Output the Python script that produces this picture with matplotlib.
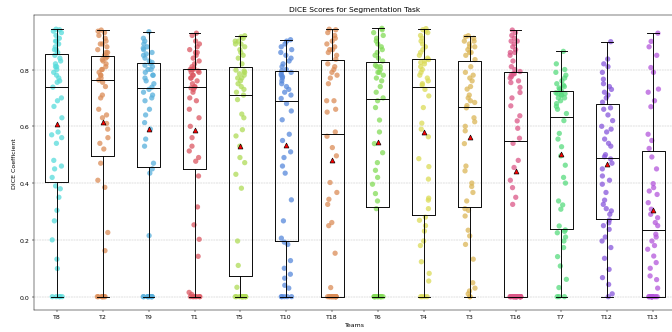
import matplotlib
matplotlib.use('Agg')
import matplotlib.pyplot as plt
import numpy as np
import pandas as pd
import seaborn as sns

' ____________ Data: DICE per case, read off the figure ____________ '

teams = ['T8', 'T2', 'T9', 'T1', 'T5', 'T10', 'T18',
         'T6', 'T4', 'T3', 'T16', 'T7', 'T12', 'T13']

team_colors = ['#57dbdb', '#db8c57', '#57afdb', '#db5762', '#afdb57', '#5789db', '#db8c57',
               '#83db57', '#dbdb57', '#dbb657', '#db5787', '#57db7e', '#8757db', '#b457db']

t8 = [0, 0, 0, 0, 0, 0.099, 0.132, 0.20, 0.267, 0.304, 0.35, 0.38, 0.39,
      0.42, 0.45, 0.46, 0.48, 0.54, 0.56, 0.57, 0.58, 0.63, 0.67, 0.69, 0.70, 0.738,
      0.755, 0.76, 0.77, 0.78, 0.79, 0.80, 0.81, 0.81, 0.82, 0.83, 0.84, 0.85,
      0.86, 0.87, 0.87, 0.88, 0.89, 0.90, 0.90, 0.91, 0.92, 0.93, 0.935, 0.94, 0.942]
t2 = [0, 0, 0, 0, 0, 0, 0, 0, 0.162, 0.226, 0.385, 0.41, 0.47,
      0.52, 0.54, 0.56, 0.59, 0.61, 0.63, 0.64, 0.66, 0.70, 0.71, 0.74, 0.755, 0.763,
      0.77, 0.78, 0.78, 0.79, 0.80, 0.80, 0.81, 0.82, 0.83, 0.835, 0.84, 0.845,
      0.85, 0.86, 0.86, 0.87, 0.88, 0.89, 0.89, 0.90, 0.91, 0.92, 0.93, 0.935, 0.939]
t9 = [0, 0, 0, 0, 0, 0, 0, 0, 0, 0, 0.215, 0.435, 0.45,
      0.47, 0.53, 0.555, 0.59, 0.613, 0.64, 0.66, 0.69, 0.70, 0.71, 0.72, 0.73,
      0.738, 0.75, 0.76, 0.77, 0.78, 0.78, 0.79, 0.80, 0.80, 0.81, 0.815, 0.82,
      0.825, 0.83, 0.84, 0.85, 0.855, 0.86, 0.87, 0.875, 0.88, 0.89, 0.90, 0.91, 0.933]
t1 = [0, 0, 0, 0, 0, 0, 0, 0.008, 0.015, 0.142, 0.202, 0.253, 0.316, 0.425,
      0.477, 0.49, 0.513, 0.53, 0.56, 0.60, 0.63, 0.66, 0.69, 0.70, 0.72, 0.73, 0.735, 0.738,
      0.74, 0.75, 0.76, 0.77, 0.77, 0.78, 0.78, 0.79, 0.79, 0.795, 0.80, 0.80, 0.80,
      0.805, 0.81, 0.82, 0.83, 0.84, 0.85, 0.86, 0.86, 0.87, 0.88, 0.89, 0.90, 0.92, 0.928]
t5 = [0, 0, 0, 0, 0, 0, 0, 0, 0, 0, 0, 0, 0.033, 0.11,
      0.196, 0.382, 0.431, 0.472, 0.49, 0.53, 0.566, 0.588, 0.63, 0.643, 0.694, 0.71,
      0.72, 0.73, 0.74, 0.75, 0.76, 0.77, 0.77, 0.78, 0.785, 0.79, 0.795, 0.798,
      0.82, 0.84, 0.85, 0.86, 0.87, 0.88, 0.89, 0.89, 0.90, 0.90, 0.91, 0.915, 0.919]
t10 = [0, 0, 0, 0, 0, 0.03, 0.04, 0.065, 0.079, 0.10, 0.127, 0.184, 0.192,
       0.206, 0.267, 0.341, 0.435, 0.46, 0.49, 0.51, 0.55, 0.572, 0.623, 0.654, 0.68,
       0.698, 0.71, 0.72, 0.73, 0.74, 0.75, 0.76, 0.77, 0.775, 0.78, 0.785, 0.79,
       0.795, 0.80, 0.81, 0.82, 0.83, 0.84, 0.85, 0.86, 0.87, 0.88, 0.89, 0.90, 0.905]
t18 = [0, 0, 0, 0, 0, 0, 0, 0, 0, 0, 0, 0, 0, 0,
       0.032, 0.153, 0.25, 0.261, 0.325, 0.343, 0.367, 0.402, 0.496, 0.525, 0.565, 0.58,
       0.65, 0.66, 0.69, 0.69, 0.75, 0.77, 0.78, 0.79, 0.80, 0.81, 0.82,
       0.836, 0.85, 0.86, 0.87, 0.87, 0.88, 0.89, 0.90, 0.91, 0.92, 0.93, 0.94, 0.942]
t6 = [0, 0, 0, 0, 0, 0, 0, 0, 0, 0, 0, 0, 0.31,
      0.337, 0.363, 0.396, 0.42, 0.445, 0.472, 0.507, 0.539, 0.58, 0.622, 0.666, 0.69,
      0.70, 0.72, 0.74, 0.76, 0.77, 0.78, 0.79, 0.79, 0.80, 0.81, 0.81, 0.815,
      0.83, 0.84, 0.85, 0.86, 0.87, 0.88, 0.89, 0.90, 0.91, 0.92, 0.93, 0.94, 0.945]
t4 = [0, 0, 0, 0, 0.055, 0.082, 0.123, 0.18, 0.196, 0.231, 0.25, 0.269, 0.28,
      0.31, 0.34, 0.347, 0.414, 0.458, 0.486, 0.563, 0.59, 0.611, 0.666, 0.707, 0.73,
      0.745, 0.75, 0.76, 0.77, 0.78, 0.79, 0.80, 0.81, 0.82, 0.825, 0.83, 0.835,
      0.84, 0.85, 0.86, 0.87, 0.88, 0.89, 0.90, 0.91, 0.92, 0.93, 0.935, 0.94, 0.944]
t3 = [0, 0, 0.01, 0.02, 0.03, 0.049, 0.132, 0.184, 0.214, 0.234, 0.284, 0.304, 0.31,
      0.337, 0.367, 0.388, 0.40, 0.443, 0.46, 0.539, 0.584, 0.60, 0.616, 0.63, 0.665,
      0.673, 0.684, 0.69, 0.70, 0.71, 0.731, 0.74, 0.76, 0.77, 0.78, 0.79, 0.81,
      0.835, 0.85, 0.86, 0.86, 0.87, 0.88, 0.88, 0.89, 0.90, 0.90, 0.91, 0.915, 0.919]
t16 = [0, 0, 0, 0, 0, 0, 0, 0, 0, 0, 0, 0, 0, 0, 0, 0, 0, 0, 0, 0, 0, 0, 0, 0,
       0.325, 0.35, 0.384, 0.41, 0.455, 0.48, 0.54,
       0.558, 0.593, 0.619, 0.637, 0.672, 0.70, 0.719, 0.737, 0.754, 0.76, 0.77, 0.775,
       0.78, 0.785, 0.785,
       0.793, 0.80, 0.81, 0.83, 0.85, 0.86, 0.86, 0.87, 0.88, 0.89, 0.90, 0.90, 0.91,
       0.92, 0.93, 0.939]
t7 = [0, 0, 0, 0.032, 0.061, 0.108, 0.141, 0.173, 0.196, 0.21, 0.225, 0.23, 0.235,
      0.249, 0.308, 0.323, 0.337, 0.40, 0.42, 0.463, 0.496, 0.528, 0.555, 0.575, 0.62,
      0.645, 0.66, 0.67, 0.68, 0.69, 0.70, 0.70, 0.71, 0.71, 0.715, 0.715, 0.718,
      0.725, 0.73, 0.735, 0.74, 0.745, 0.75, 0.76, 0.77, 0.78, 0.79, 0.80, 0.82, 0.864]
t12 = [0, 0.01, 0.043, 0.067, 0.096, 0.135, 0.173, 0.196, 0.21, 0.237, 0.25, 0.26, 0.27,
       0.29, 0.302, 0.31, 0.325, 0.34, 0.367, 0.396, 0.41, 0.425, 0.45, 0.47, 0.485,
       0.493, 0.50, 0.53, 0.54, 0.555, 0.58, 0.59, 0.60, 0.62, 0.64, 0.66, 0.665,
       0.685, 0.70, 0.71, 0.72, 0.73, 0.74, 0.75, 0.766, 0.79, 0.81, 0.82, 0.837, 0.898]
t13 = [0, 0, 0, 0, 0, 0, 0, 0, 0, 0, 0, 0, 0, 0,
       0.03, 0.06, 0.073, 0.10, 0.12, 0.143, 0.167, 0.18, 0.196, 0.21, 0.22,
       0.25, 0.261, 0.278, 0.29, 0.308, 0.331, 0.36, 0.372, 0.384, 0.398, 0.45, 0.492,
       0.522, 0.55, 0.572, 0.669, 0.69, 0.72, 0.731, 0.79, 0.807, 0.85, 0.88, 0.899, 0.928]

scores = [t8, t2, t9, t1, t5, t10, t18, t6, t4, t3, t16, t7, t12, t13]

" long form table for seaborn "
df = pd.DataFrame({'team': np.repeat(teams, [len(s) for s in scores]),
                   'dice': np.concatenate(scores)})

' ____________ Plot ____________ '

np.random.seed(7)

# big figure rendered at low dpi, like the downscaled original
fig = plt.figure(figsize=(15, 7.433))
ax = fig.add_axes([34/672, 1 - 311/333, (676 - 34)/672, (311 - 16)/333])

sns.stripplot(data=df, x='team', y='dice', hue='team', order=teams,
              palette=dict(zip(teams, team_colors)), jitter=0.12, size=8.5,
              alpha=0.75, linewidth=0, legend=False, ax=ax, zorder=1)

ax.boxplot(scores, positions=range(len(teams)), widths=0.5,
           showmeans=True, showfliers=False, tick_labels=teams, zorder=3,
           boxprops=dict(color='black', linewidth=1.5),
           whiskerprops=dict(color='black', linewidth=1.5),
           capprops=dict(color='black', linewidth=1.5),
           medianprops=dict(color='black', linewidth=1.5),
           meanprops=dict(marker='^', markerfacecolor='red',
                          markeredgecolor='black', markersize=8))

ax.set_xlim(-0.5, len(teams) - 0.5)
ax.set_ylim(-0.047, 0.992)
ax.set_yticks([0.0, 0.2, 0.4, 0.6, 0.8])
ax.yaxis.grid(True, linestyle='--', color='gray', alpha=0.5)
ax.set_axisbelow(True)

ax.set_title('DICE Scores for Segmentation Task')
ax.set_xlabel('Teams')
ax.set_ylabel('DICE Coefficient')

fig.savefig('out.png', dpi=44.8)
